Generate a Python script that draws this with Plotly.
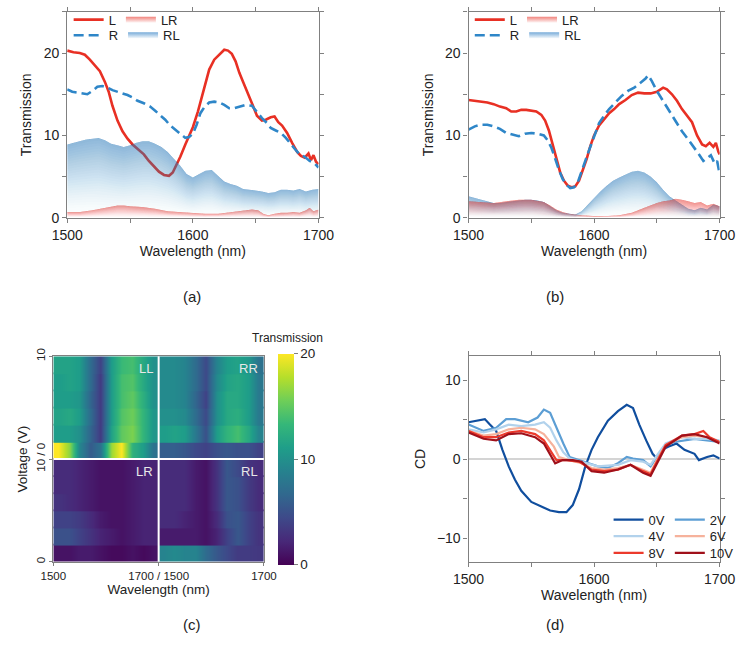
import plotly.graph_objects as go

# ------------------------------------------------------------------ data
# panel (a)
a_L_wl = [1500,1505,1510,1514,1518,1522,1526,1530,1533,1536,1540,1544,1548,1552,1556,1561,1565,1569,1573,1577,
          1581,1584,1587,1590,1594,1597,1600,1604,1607,1610,1613,1617,1621,1625,1628,1631,1634,1637,1640,1643,
          1647,1651,1655,1658,1662,1665,1668,1671,1675,1679,1683,1686,1689,1692,1694,1696,1698,1700]
a_L = [20.3,20.1,20.0,19.8,19.2,18.5,17.8,16.5,15.3,13.6,11.8,10.5,9.6,8.9,8.4,7.7,6.9,6.2,5.6,5.2,
       5.1,5.5,6.4,7.4,8.9,10.0,11.0,12.9,14.6,16.3,18.0,19.2,19.8,20.4,20.3,19.9,19.0,17.6,16.5,15.3,
       13.9,12.4,11.8,11.9,12.2,12.3,11.6,11.2,10.3,9.1,8.0,7.5,7.3,7.8,7.0,7.6,6.8,6.5]
a_R_wl = [1500,1504,1508,1512,1516,1520,1524,1528,1532,1536,1540,1544,1548,1552,1556,1561,1566,1570,1574,1578,
          1582,1586,1590,1594,1597,1600,1603,1606,1609,1613,1617,1621,1625,1629,1633,1637,1642,1647,1651,1655,
          1659,1662,1666,1670,1674,1678,1682,1685,1689,1693,1697,1700]
a_R = [15.6,15.3,15.2,15.1,15.0,15.4,15.9,16.0,15.8,15.5,15.3,15.1,14.9,14.6,14.2,13.9,13.5,13.0,12.5,11.9,
       11.2,10.7,10.2,9.7,9.8,10.2,11.3,12.7,13.4,14.0,14.1,14.0,13.7,13.3,13.3,13.5,13.7,13.6,12.8,12.1,
       11.5,10.9,10.6,10.3,9.7,8.9,8.2,7.7,7.4,6.9,6.6,6.1]
a_RL_wl = [1500,1505,1510,1515,1520,1525,1530,1535,1540,1545,1550,1555,1560,1565,1570,1575,1580,1585,1590,1595,
           1600,1605,1610,1615,1620,1625,1630,1635,1640,1645,1650,1655,1660,1665,1670,1675,1680,1685,1690,1695,1700]
a_RL = [8.9,9.1,9.3,9.5,9.6,9.7,9.4,9.0,8.8,8.6,8.8,9.1,9.3,9.3,9.0,8.6,8.0,7.2,6.3,5.3,
        4.9,5.3,5.7,5.8,5.1,4.4,4.1,3.9,3.5,3.4,3.3,3.2,3.0,3.1,3.4,3.4,3.3,3.5,3.2,3.4,3.5]
a_LR_wl = [1500,1510,1520,1530,1540,1545,1550,1560,1570,1580,1590,1600,1610,1620,1630,1640,1647,1652,1656,1660,
           1665,1670,1675,1680,1685,1690,1693,1696,1700]
a_LR = [0.7,0.7,0.9,1.2,1.5,1.5,1.4,1.3,1.1,0.8,0.7,0.6,0.5,0.5,0.7,0.9,1.0,0.9,0.5,0.3,
        0.5,0.6,0.6,0.7,0.6,0.9,1.2,0.8,1.0]

# panel (b)
b_L_wl = [1500,1505,1510,1515,1520,1525,1530,1534,1538,1542,1546,1550,1554,1558,1561,1564,1567,1570,1573,1576,
          1579,1582,1585,1588,1591,1594,1597,1600,1604,1608,1612,1616,1620,1625,1630,1635,1640,1645,1650,1655,
          1658,1662,1666,1670,1674,1678,1682,1686,1689,1692,1695,1697,1699,1700]
b_L = [14.3,14.2,14.1,14.0,13.8,13.5,13.3,12.9,12.9,13.1,13.1,13.0,12.9,12.5,11.8,10.6,8.9,7.0,5.5,4.5,
       3.9,3.7,3.8,4.5,5.7,7.1,8.7,10.0,11.2,12.0,12.7,13.2,13.8,14.3,14.9,15.2,15.1,15.1,15.3,15.8,
       15.6,15.0,14.2,13.2,12.4,11.6,10.0,8.9,8.7,9.1,8.6,9.1,8.0,7.7]
b_R_wl = [1500,1505,1510,1515,1520,1525,1530,1535,1540,1545,1550,1555,1560,1563,1566,1569,1572,1575,1578,1581,
          1584,1587,1590,1593,1596,1600,1604,1608,1612,1617,1622,1627,1632,1637,1641,1643,1646,1650,1654,1658,
          1662,1666,1670,1675,1680,1684,1687,1690,1693,1696,1698,1700]
b_R = [10.7,11.1,11.3,11.3,11.1,10.8,10.3,10.1,9.9,10.2,10.3,10.2,10.0,9.4,8.5,7.2,5.8,4.7,4.0,3.6,
       3.7,4.3,5.5,6.9,8.2,9.9,11.5,12.4,13.2,14.0,14.8,15.4,15.8,16.4,16.9,17.3,16.6,15.4,14.4,13.4,
       12.4,11.5,10.5,9.5,8.5,7.6,6.9,7.3,7.6,6.6,6.9,5.3]
b_RL_wl = [1500,1505,1510,1515,1520,1525,1530,1535,1540,1545,1550,1555,1560,1565,1570,1575,1580,1585,1590,1595,
           1600,1605,1610,1615,1620,1625,1630,1635,1640,1645,1650,1655,1660,1665,1670,1675,1680,1685,1690,1695,1700]
b_RL = [2.6,2.4,2.2,2.0,1.8,1.8,1.9,2.0,2.1,2.2,2.2,2.1,1.9,1.4,0.9,0.6,0.5,0.4,0.8,1.6,
        2.5,3.2,3.9,4.5,4.9,5.3,5.6,5.7,5.5,5.0,4.3,3.4,2.6,2.1,1.6,1.1,0.9,1.2,1.0,1.6,1.4]
b_LR_wl = [1500,1510,1520,1530,1540,1550,1560,1565,1570,1575,1580,1585,1590,1600,1610,1620,1630,1640,1645,1650,
           1655,1660,1665,1670,1675,1680,1685,1690,1695,1700]
b_LR = [2.0,1.9,1.8,2.0,2.2,2.2,1.9,1.5,1.0,0.7,0.5,0.4,0.3,0.2,0.2,0.3,0.6,1.2,1.5,1.8,
        2.0,2.1,2.3,2.2,2.0,1.8,1.9,1.5,1.7,1.4]

# panel (c): transmission maps, rows = voltages 0..10 V, columns = wavelength samples
c_wl = [1510,1530,1550,1570,1590,1610,1630,1650,1670,1690]
c_volt = [0, 2, 4, 6, 8, 10]
c_LL = [[20, 16.5, 9.2, 5.8, 7.5, 17, 20, 12.8, 11, 7.5],
        [11, 11, 10, 6.5, 3.5, 11.5, 15, 16, 13, 10.5],
        [11.5, 12, 11, 7, 3.5, 11, 14.5, 15.5, 13, 10.5],
        [11, 11, 10.5, 6.5, 3.5, 11, 14, 15, 12.5, 10],
        [11, 11.5, 11, 7, 3.5, 11, 14, 14.5, 12, 10],
        [11.5, 11.5, 11, 7, 4, 11, 13.5, 14, 12, 10]]
c_RR = [[6, 6, 5.5, 4.5, 4, 5, 5.5, 5, 5, 4],
        [11, 11.5, 11, 8, 5, 11, 13, 14, 12, 9],
        [10, 10, 9.5, 7, 4.5, 10, 12, 12.5, 11, 8],
        [9.5, 9.5, 9, 6.5, 4, 10, 12, 12, 11, 8],
        [9.5, 9.5, 9, 7, 4.5, 9.5, 11.5, 12, 11, 8],
        [9.5, 9.5, 9, 7, 4.5, 9, 11, 11.5, 10.5, 7.5]]
c_LR = [[1, 1, 1.5, 1.5, 1, 0.5, 0.5, 1, 0.5, 1],
        [5, 5, 4, 3, 2, 1.5, 1, 1.5, 2, 2],
        [4, 4, 3.5, 2.5, 1.5, 1, 1, 1.5, 2, 2],
        [3, 2.5, 2, 1.5, 1, 1, 1, 1.5, 2, 2],
        [2.5, 2.5, 2, 1.5, 1, 1, 1, 1.5, 2, 2],
        [2.5, 2.5, 2, 1.5, 1, 1, 1, 1.5, 2, 2]]
c_RL = [[9, 9.5, 9, 9, 7, 5.5, 4.5, 3.5, 3.5, 3.3],
        [1.5, 1.5, 1.5, 1.5, 1, 2, 4, 5.5, 4, 3],
        [2.5, 2.5, 2, 1.5, 1, 2.5, 5, 5.5, 4, 3],
        [2.5, 2.5, 2.5, 1.5, 1, 3, 5.5, 5, 3.5, 2.5],
        [2.5, 2.5, 2.5, 1.5, 1, 3, 5.5, 5, 3.5, 2.5],
        [2.5, 2.5, 2.5, 1.5, 1, 3, 5.5, 4.5, 3, 2.5]]
c_xticks = ["1500", "1700 / 1500", "1700"]
c_yticks = ["0", "10 / 0", "10"]

# panel (d): CD spectra
d_labels = ["0V", "2V", "4V", "6V", "8V", "10V"]
d_wl = [
    [1500,1507,1513,1517,1522,1527,1532,1537,1542,1550,1558,1565,1572,1578,1583,1588,1593,1598,1603,1611,
     1619,1626,1631,1636,1641.5,1646.6,1650,1654,1659,1665.7,1672,1680,1683.5,1690,1695,1700],
    [1500,1512,1522,1530,1537,1547.5,1555,1560,1565,1570,1575.5,1580.5,1588,1596,1603,1611,1619,1626,1631,1639,
     1645,1650,1657,1664,1672,1680,1690,1700],
    [1500,1512,1522,1532,1542,1553,1560,1565,1570,1575.5,1580.5,1590,1603,1619,1629,1639,1645,1650,1657,1670,
     1680,1690,1700],
    [1500,1512,1522,1532,1542,1553,1560,1568,1572,1580,1590,1598,1608,1619,1629,1639,1645,1650,1657,1670,
     1680,1690,1700],
    [1500,1512,1522,1532,1542,1553,1560,1565,1570,1578,1588,1598,1608,1619,1629,1639,1645,1650,1657,1670,
     1680,1687,1692,1700],
    [1500,1512,1522,1532,1542,1553,1560,1565,1569,1575,1583,1590,1598,1608,1619,1629,1639,1645,1650,1657,
     1670,1680,1690,1700],
]
d_cd = [
    [4.7,4.9,5.1,4.4,3.6,1.2,-0.9,-2.6,-4.0,-5.4,-6.0,-6.5,-6.7,-6.7,-5.8,-3.8,-0.9,1.2,2.8,4.9,
     6.1,6.9,6.5,4.4,2.4,0.7,0.1,1.2,1.6,2.0,1.2,0.7,-0.1,0.3,0.5,0.1],
    [4.4,3.6,4.0,5.1,5.1,4.7,5.3,6.3,5.9,4.0,2.0,0.3,-0.1,-0.5,-0.9,-1.1,-0.5,0.3,0.1,-0.1,
     -0.9,0.3,1.8,2.2,2.4,2.6,2.4,2.2],
    [3.8,3.4,3.8,4.4,4.2,4.4,4.7,4.0,2.4,0.9,0.1,-0.3,-0.9,-0.7,-0.1,-0.3,-0.7,0.5,2.0,2.8,
     2.6,2.6,2.4],
    [3.6,3.0,3.2,3.8,4.0,3.8,3.2,1.6,0.3,-0.1,-0.5,-1.1,-1.3,-1.1,-0.7,-1.3,-1.7,-0.1,1.8,2.8,
     3.0,2.8,2.2],
    [3.6,2.8,2.8,3.4,3.6,3.2,2.4,1.2,-0.1,-0.1,-0.3,-1.3,-1.5,-1.3,-0.7,-1.5,-1.9,-0.3,1.8,3.0,
     3.2,3.6,2.8,2.2],
    [3.4,2.6,2.4,3.2,3.3,2.8,2.0,0.7,-0.5,-0.1,-0.1,-0.3,-1.5,-1.7,-1.3,-0.7,-1.7,-2.1,-0.5,1.6,
     3.0,3.2,2.8,2.0],
]

# ------------------------------------------------------------------ styles
W, H = 750, 655
FONT = "Arial, 'Liberation Sans', Helvetica, sans-serif"
RED = "rgb(232,48,36)"
BLUE = "rgb(46,134,200)"
RL_RGB = (60, 135, 200)
LR_RGB = (235, 75, 65)
D_COLORS = ["rgb(16,78,158)", "rgb(92,158,212)", "rgb(178,210,236)",
            "rgb(246,178,156)", "rgb(236,58,44)", "rgb(160,16,26)"]
AX = "#808080"


def fx(p):
    return p / W


def fy(p):
    return 1 - p / H


fig = go.Figure()


def add_band(wl, top, rgb, xa, ya, n=30, amax=0.55, power=1.3):
    # vertical fade: overlapping layers, each spanning a fraction of the series up to the series itself
    prev = 0.0
    for k in range(1, n + 1):
        target = amax * ((k - 0.5) / n) ** power
        a = 1 - (1 - target) / (1 - prev)
        prev = target
        lower = [v * (k - 1) / n for v in top]
        fig.add_trace(go.Scatter(x=list(wl) + list(wl)[::-1], y=list(top) + lower[::-1],
                                 mode="lines", line=dict(width=0), fill="toself",
                                 fillcolor="rgba(%d,%d,%d,%.4f)" % (rgb + (a,)),
                                 showlegend=False, hoverinfo="skip", xaxis=xa, yaxis=ya))


def panel_ab(L_wl, L, R_wl, R, RL_wl, RL, LR_wl, LR, xa, ya, lg1, lg2):
    fig.add_trace(go.Scatter(x=L_wl, y=L, mode="lines", name="L", line=dict(color=RED, width=2.6),
                             xaxis=xa, yaxis=ya, legend=lg1))
    fig.add_trace(go.Scatter(x=R_wl, y=R, mode="lines", name="R",
                             line=dict(color=BLUE, width=2.6, dash="10px,5px"),
                             xaxis=xa, yaxis=ya, legend=lg2))
    add_band(RL_wl, RL, RL_RGB, xa, ya)
    add_band(LR_wl, LR, LR_RGB, xa, ya)
    for nm, rgb, lg in (("LR", LR_RGB, lg1), ("RL", RL_RGB, lg2)):
        fig.add_trace(go.Scatter(x=[None], y=[None], mode="none", name=nm, fill="tozeroy",
                                 fillgradient=dict(type="vertical",
                                                   colorscale=[[0, "rgba(%d,%d,%d,0.05)" % rgb],
                                                               [1, "rgba(%d,%d,%d,0.7)" % rgb]]),
                                 xaxis=xa, yaxis=ya, legend=lg))


panel_ab(a_L_wl, a_L, a_R_wl, a_R, a_RL_wl, a_RL, a_LR_wl, a_LR, "x", "y", "legend", "legend2")
panel_ab(b_L_wl, b_L, b_R_wl, b_R, b_RL_wl, b_RL, b_LR_wl, b_LR, "x2", "y2", "legend3", "legend4")

# panel (c): four quadrants, one heatmap strip per voltage row (slight overlap hides seams)
quads = [(c_LL, 0, 6), (c_RR, 200, 6), (c_LR, 0, 0), (c_RL, 200, 0)]
for zq, xo, yo in quads:
    for i, row in enumerate(zq):
        fig.add_trace(go.Heatmap(
            x=[w - 1500 + xo for w in c_wl],
            y=[yo + i + 0.22, yo + i + 0.78],
            z=[row, row], zsmooth="best", coloraxis="coloraxis",
            hoverinfo="skip", xaxis="x3", yaxis="y3"))

# panel (d)
d_legends = ["legend5", "legend5", "legend6", "legend6", "legend7", "legend7"]
for lab, wl, cd, col, lg in zip(d_labels, d_wl, d_cd, D_COLORS, d_legends):
    fig.add_trace(go.Scatter(x=wl, y=cd, mode="lines", name=lab, line=dict(color=col, width=2.2),
                             xaxis="x4", yaxis="y4", legend=lg))

# ------------------------------------------------------------------ layout
def ax_style(**kw):
    d = dict(showline=True, linecolor=AX, linewidth=1.2, mirror="ticks", ticks="outside",
             ticklen=4, tickwidth=1.2, tickcolor=AX, showgrid=False, zeroline=False,
             tickfont=dict(size=14, color="#222"), title_font=dict(size=14, color="#222"))
    d.update(kw)
    return d


minor_x = dict(dtick=50, ticks="outside", ticklen=4, tickwidth=1.2, tickcolor=AX, showgrid=False)
minor_y = dict(dtick=5, ticks="outside", ticklen=4, tickwidth=1.2, tickcolor=AX, showgrid=False)

ya_dom = [fy(215), fy(4)]
fig.update_layout(
    width=W, height=H, margin=dict(l=0, r=0, t=0, b=0),
    paper_bgcolor="white", plot_bgcolor="white",
    font=dict(family=FONT, color="#222"),
    xaxis=ax_style(domain=[fx(53.5), fx(316)], range=[1500, 1700], tickvals=[1500, 1600, 1700],
                   minor=minor_x, title=dict(text="Wavelength (nm)", standoff=3), anchor="y"),
    yaxis=ax_style(domain=ya_dom, range=[0, 25], tickvals=[0, 10, 20], minor=minor_y,
                   title=dict(text="Transmission", standoff=8), anchor="x"),
    xaxis2=ax_style(domain=[fx(472.7), fx(735)], range=[1500, 1700], tickvals=[1500, 1600, 1700],
                    minor=minor_x, title=dict(text="Wavelength (nm)", standoff=3), anchor="y2"),
    yaxis2=ax_style(domain=ya_dom, range=[0, 25], tickvals=[0, 10, 20], minor=minor_y,
                    title=dict(text="Transmission", standoff=8), anchor="x2"),
    xaxis3=dict(domain=[fx(39), fx(259)], range=[0, 400], tickvals=[0, 200, 400], ticktext=c_xticks,
                showline=True, mirror=True, linecolor=AX, linewidth=1, ticks="outside", ticklen=3,
                tickcolor=AX, showgrid=False, zeroline=False, tickfont=dict(size=11.5, color="#222"),
                title=dict(text="Wavelength (nm)", standoff=2, font=dict(size=13.5, color="#222")),
                anchor="y3"),
    yaxis3=dict(domain=[fy(567.7), fy(357)], range=[0, 12], tickvals=[0, 6, 12], ticktext=c_yticks,
                tickangle=-90, showline=True, mirror=True, linecolor=AX, linewidth=1, ticks="outside",
                ticklen=3, tickcolor=AX, showgrid=False, zeroline=False,
                tickfont=dict(size=11.5, color="#222"),
                title=dict(text="Voltage (V)", standoff=4, font=dict(size=13.5, color="#222")),
                anchor="x3"),
    xaxis4=ax_style(domain=[fx(472.7), fx(735)], range=[1500, 1700], tickvals=[1500, 1600, 1700],
                    minor=minor_x, title=dict(text="Wavelength (nm)", standoff=3), anchor="y4"),
    yaxis4=ax_style(domain=[fy(567.7), fy(356.7)], range=[-13, 13.1], tickvals=[-10, 0, 10],
                    minor=minor_y, zeroline=True, zerolinecolor="#d4d4d4", zerolinewidth=1.5,
                    title=dict(text="CD", standoff=7), anchor="x4"),
    coloraxis=dict(colorscale="Viridis", cmin=0, cmax=20,
                   colorbar=dict(x=fx(274), xanchor="left", xpad=0, ypad=0, thickness=16,
                                 lenmode="pixels", len=210.7, y=fy(462.3), yanchor="middle",
                                 tickvals=[0, 10, 20], ticks="outside", ticklen=4, tickcolor=AX,
                                 outlinewidth=0, tickfont=dict(size=13.5, color="#222"))),
)

leg_common = dict(orientation="h", bgcolor="rgba(0,0,0,0)", borderwidth=0, xanchor="left",
                  yanchor="middle", font=dict(size=13, color="#222"), traceorder="normal",
                  itemclick=False, itemdoubleclick=False)
fig.update_layout(
    legend=dict(leg_common, x=fx(55), y=fy(12)),
    legend2=dict(leg_common, x=fx(55), y=fy(28)),
    legend3=dict(leg_common, x=fx(474), y=fy(12)),
    legend4=dict(leg_common, x=fx(474), y=fy(28)),
    legend5=dict(leg_common, x=fx(619), y=fy(524.5)),
    legend6=dict(leg_common, x=fx(619), y=fy(541.5)),
    legend7=dict(leg_common, x=fx(619), y=fy(558.5)),
)

# divider lines between the four maps
fig.add_shape(type="line", xref="x3", yref="y3", x0=200, x1=200, y0=0, y1=12,
              line=dict(color="white", width=2))
fig.add_shape(type="line", xref="x3", yref="y3", x0=0, x1=400, y0=6, y1=6,
              line=dict(color="white", width=2))

ann = []
for txt, x, y in (("LL", 200, 12), ("RR", 400, 12), ("LR", 200, 6), ("RL", 400, 6)):
    ann.append(dict(text=txt, x=x, y=y, xref="x3", yref="y3", xanchor="right", yanchor="top",
                    xshift=-4, yshift=-3, showarrow=False, font=dict(size=13, color="#e8e8e8")))
ann.append(dict(text="Transmission", x=fx(284), y=fy(338.5), xref="paper", yref="paper",
                xanchor="center", yanchor="middle", showarrow=False, font=dict(size=12, color="#222")))
for txt, x, y in (("(a)", 184, 296), ("(b)", 563, 296), ("(c)", 184, 632), ("(d)", 563, 632)):
    ann.append(dict(text=txt, x=fx(x), y=fy(y), xref="paper", yref="paper", xanchor="center",
                    yanchor="middle", showarrow=False, font=dict(size=15, color="#222")))
fig.update_layout(annotations=ann)

fig.write_html("out.html")
